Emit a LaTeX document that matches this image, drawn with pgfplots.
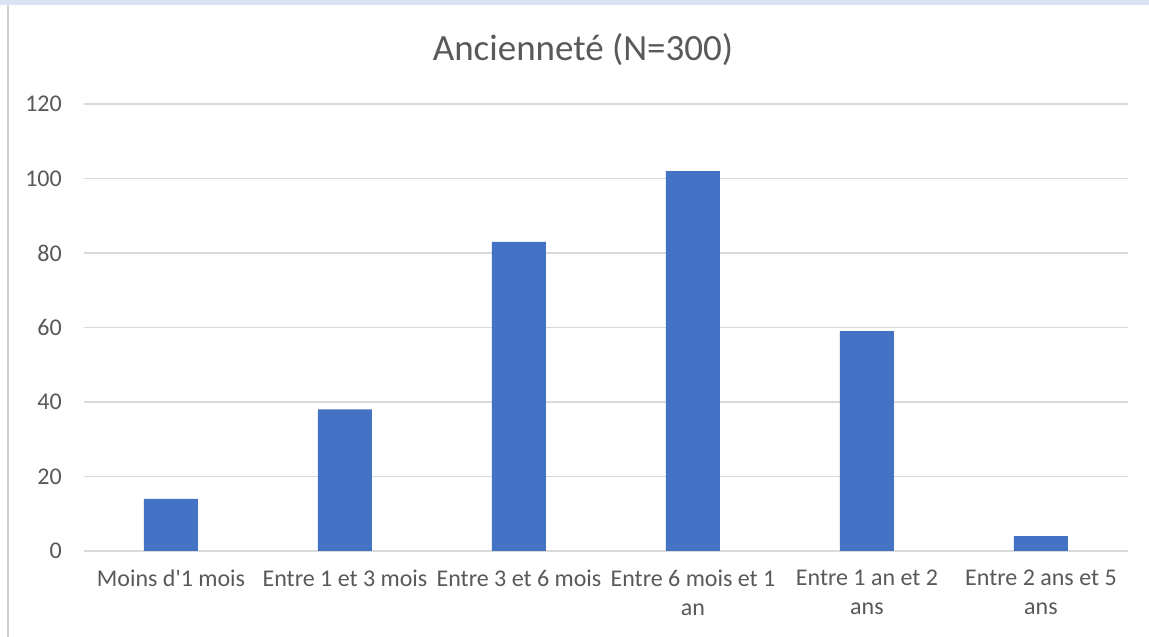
\documentclass[border=0pt]{standalone}
\usepackage{fontspec}
\setmainfont{Carlito}[Ligatures=TeXOff]
\usepackage{pgfplots}
\pgfplotsset{compat=1.18}
\definecolor{barblue}{HTML}{4472C4}
\definecolor{gridgray}{HTML}{D9D9D9}
\definecolor{labelgray}{HTML}{595959}
\definecolor{topstrip}{HTML}{DAE3F3}
\definecolor{edgegray}{HTML}{D0D0D0}

\begin{document}
\begin{tikzpicture}
\path[use as bounding box, fill=white] (0pt,0pt) rectangle (1149pt,637pt);
\fill[topstrip] (0pt,632pt) rectangle (1149pt,637pt);
\draw[edgegray, line width=2pt] (7.5pt,0pt) -- (7.5pt,632pt);
\node[labelgray, font=\fontsize{37}{44}\selectfont] at (583pt,587pt) {Ancienneté (N=300)};
\begin{axis}[
 at={(84pt,86pt)}, anchor=south west,
 scale only axis, width=1044pt, height=447pt,
 ybar, bar width=54pt,
 xmin=-0.5, xmax=5.5, ymin=0, ymax=120,
 xtick={0,1,2,3,4,5},
 xticklabels={Moins d'1 mois, Entre 1 et 3 mois, Entre 3 et 6 mois, {Entre 6 mois et 1\\an}, {Entre 1 an et 2\\ans}, {Entre 2 ans et 5\\ans}},
 ytick={0,20,...,120},
 axis line style={draw=none},
 major tick length=0pt,
 ymajorgrids, grid style={gridgray, line width=1.5pt},
 tick label style={labelgray, font=\fontsize{24}{29}\selectfont},
 xticklabel style={align=center, inner sep=0pt, anchor=north, yshift=-19pt},
 yticklabel style={inner sep=0pt, anchor=east, xshift=-22pt},
 /pgf/number format/assume math mode=true,
]
\addplot[fill=barblue, draw=none] coordinates {(0,14) (1,38) (2,83) (3,102) (4,59) (5,4)};
\end{axis}
\end{tikzpicture}
\end{document}
